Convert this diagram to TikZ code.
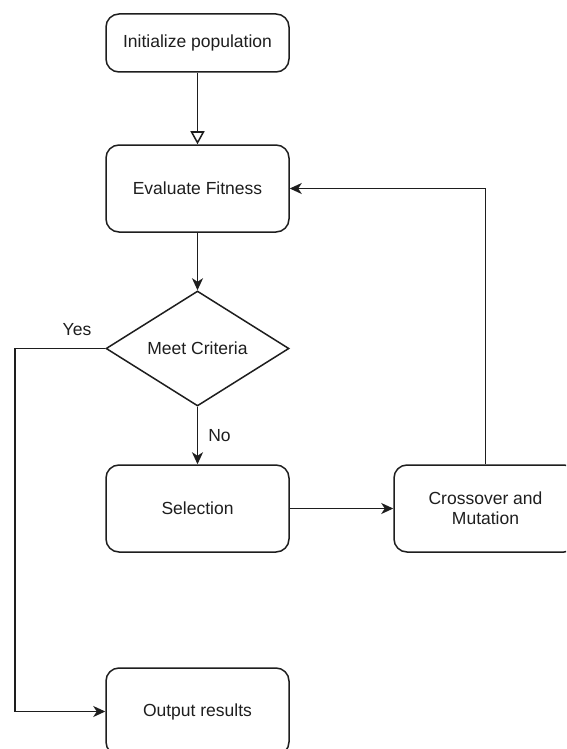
\documentclass[tikz,border=0pt]{standalone}
\usepackage{fontspec}
\setmainfont{Liberation Sans}
\usetikzlibrary{arrows.meta,shapes.geometric}
\definecolor{ink}{HTML}{1E1E1E}
\tikzset{
  x=1pt, y=-1pt,
  every node/.style={font=\fontsize{17.5}{21}\selectfont, text=ink},
  stepbox/.style={draw=ink, line width=1.5pt, rounded corners=13pt,
    minimum width=183pt, minimum height=87pt, inner sep=0pt, align=center},
  decision/.style={draw=ink, line width=1.5pt, diamond, aspect=1.59,
    minimum width=183pt, minimum height=115pt, inner sep=0pt},
  flow/.style={draw=ink, line width=1.5pt,
    -{Stealth[length=12pt, width=11pt, inset=3.5pt]}},
  openflow/.style={draw=ink, line width=1.5pt,
    -{Triangle[open, length=13pt, width=14pt]}},
  tag/.style={inner sep=0pt}
}
\begin{document}
\begin{tikzpicture}
  \useasboundingbox (0,0) rectangle (566,749);
  \clip (0,0) rectangle (566,749);
  \fill[white] (0,0) rectangle (566,749);

  % process steps
  \node[stepbox, minimum height=58pt] (init) at (197.5,43) {Initialize population};
  \node[stepbox] (eval) at (197.5,188.5) {Evaluate Fitness};
  \node[decision] (crit) at (197.5,348.5) {Meet Criteria};
  \node[stepbox] (sel) at (197.5,508.5) {Selection};
  \node[stepbox] (cross) at (485.5,508.5) {Crossover and\\[-1pt]Mutation};
  \node[stepbox] (out) at (197.5,711.5) {Output results};

  % helper points of the loops
  \coordinate (yesbend) at (15,348.5);
  \coordinate (yesdown) at (15,711.5);
  \coordinate (loopup) at (485.5,188.5);

  % connectors
  \draw[openflow] (init) -- (eval);
  \draw[flow] (eval) -- (crit);
  \draw[flow] (crit) -- node[tag, right=10pt] {No} (sel);
  \draw[flow] (crit.west) -- (yesbend) -- (yesdown) -- (out.west);
  \draw[flow] (sel) -- (cross);
  \draw[flow] (cross.north) -- (loopup) -- (eval.east);

  % branch label
  \node[tag] (yes) at (77,330) {Yes};
\end{tikzpicture}
\end{document}
